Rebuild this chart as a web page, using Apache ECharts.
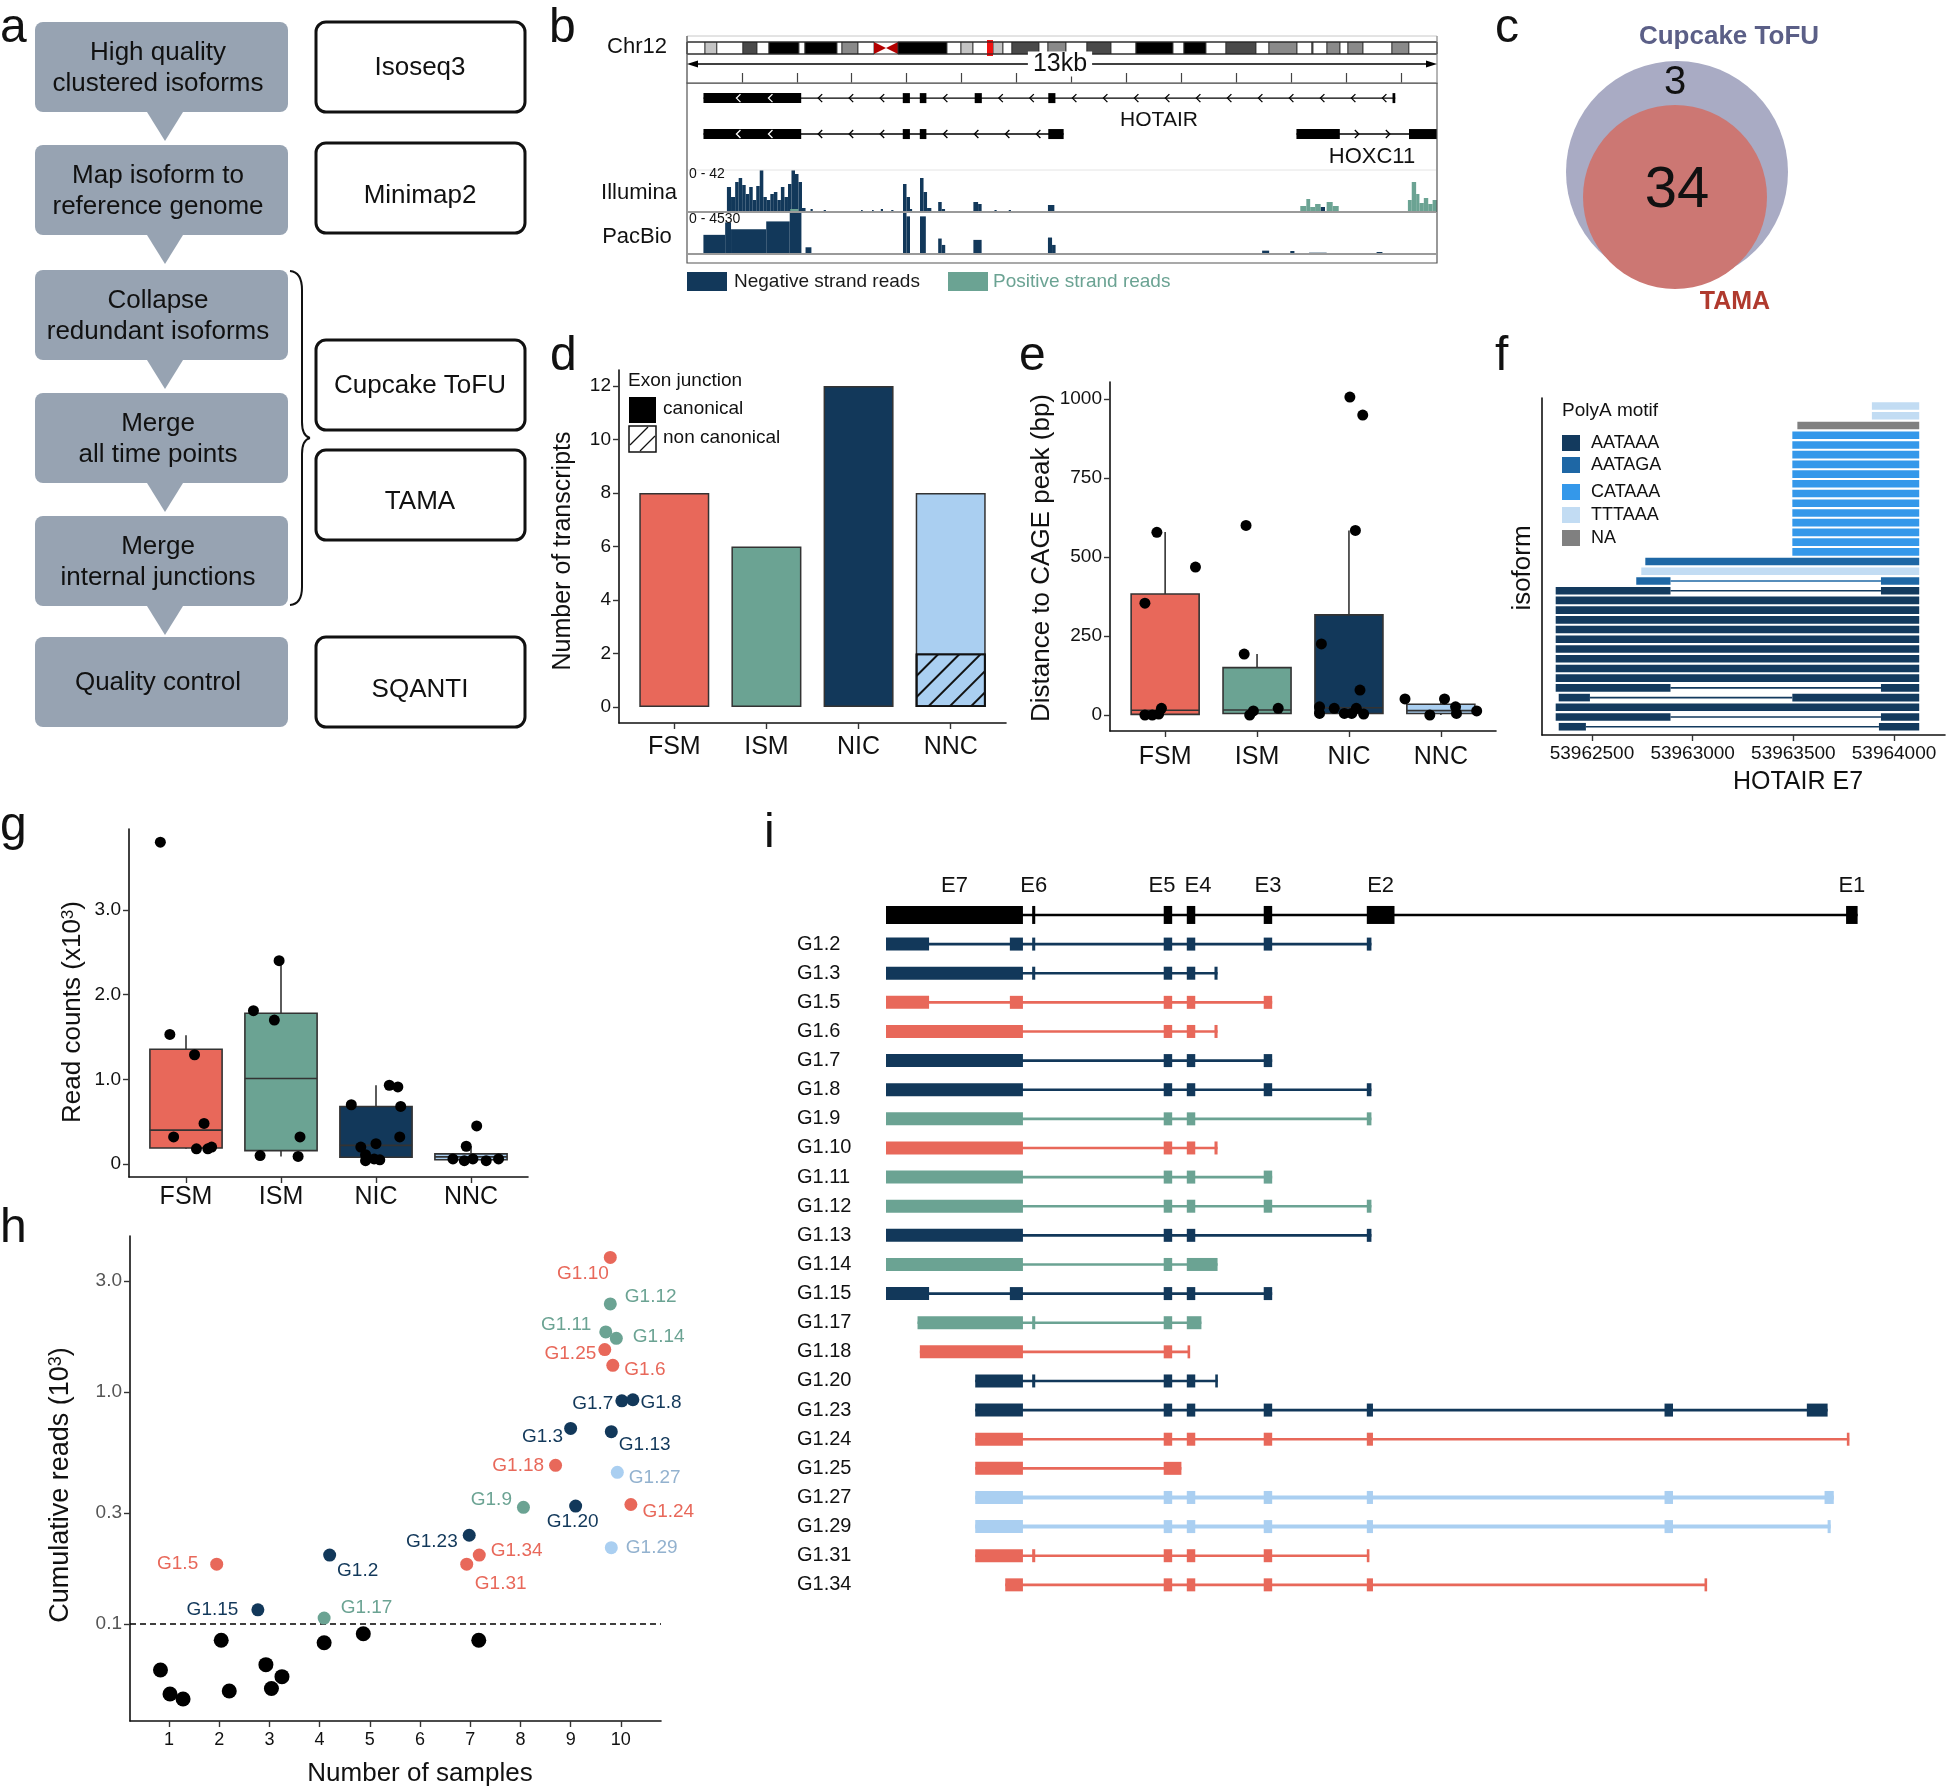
<!DOCTYPE html>
<html>
<head>
<meta charset="utf-8">
<title>HOTAIR isoforms</title>
<script src="https://cdn.jsdelivr.net/npm/echarts@6.0.0/dist/echarts.min.js"></script>
<style>
html, body { margin: 0; padding: 0; background: #fff; }
#main { width: 1948px; height: 1788px; }
</style>
</head>
<body>
<div id="main"></div>
<script>
var FONT = '"Liberation Sans", Arial, Helvetica, sans-serif';
var NAVY = '#12385a', RED = '#e8685a', TEAL = '#6ba393', LIGHT = '#aacff1';
var TXT = '#111';

// ---- a: pipeline
var pipelineSteps = ['High quality\nclustered isoforms', 'Map isoform to\nreference genome', 'Collapse\nredundant isoforms',
    'Merge\nall time points', 'Merge\ninternal junctions', 'Quality control'];
var pipelineTools = ['Isoseq3', 'Minimap2', 'Cupcake ToFU', 'TAMA', 'SQANTI'];

// ---- b: HOTAIR locus (chr12 in Mb, locus window in kb)
var chr12Bands = [
    [0, 3.2, 'gneg'], [3.2, 5.3, 'gpos25'], [5.3, 9.95, 'gneg'], [9.95, 12.44, 'gpos75'], [12.44, 14.57, 'gneg'],
    [14.57, 19.9, 'gpos100'], [19.9, 20.97, 'gneg'], [20.97, 26.66, 'gpos100'], [26.66, 27.55, 'gneg'],
    [27.55, 30.39, 'gpos50'], [30.39, 33.24, 'gneg'], [33.24, 35.37, 'acen'], [35.37, 37.5, 'acen'],
    [37.5, 46.21, 'gpos100'], [46.21, 48.7, 'gneg'], [48.7, 50.83, 'gpos25'], [50.83, 54.39, 'gneg'],
    [54.39, 56.16, 'gpos25'], [56.16, 57.76, 'gneg'], [57.76, 62.56, 'gpos75'], [62.56, 64.16, 'gneg'],
    [64.16, 67.36, 'gpos50'], [67.36, 71.09, 'gneg'], [71.09, 75.36, 'gpos75'], [75.36, 79.8, 'gneg'],
    [79.8, 86.38, 'gpos100'], [86.38, 88.33, 'gneg'], [88.33, 92.24, 'gpos100'], [92.24, 95.8, 'gneg'],
    [95.8, 101.13, 'gpos75'], [101.13, 103.44, 'gneg'], [103.44, 108.42, 'gpos50'], [108.42, 111.08, 'gneg'],
    [111.08, 111.26, 'gpos50'], [111.26, 113.75, 'gneg'], [113.75, 116.06, 'gpos50'], [116.06, 117.48, 'gneg'],
    [117.48, 120.15, 'gpos50'], [120.15, 125.3, 'gneg'], [125.3, 128.3, 'gpos50'], [128.3, 133.3, 'gneg']
];
var locusMb = [53.32, 54.39];
var rulerLabel = '13kb';
var hotair201Exons = [[0.30, 2.08], [3.93, 4.06], [4.24, 4.36], [5.24, 5.37], [6.58, 6.71], [12.85, 12.90]];
var hotair202Exons = [[0.30, 2.08], [3.93, 4.06], [4.24, 4.36], [6.58, 6.86]];
var hoxc11Exons = [[11.10, 11.89], [13.15, 13.66]];
var illuminaNeg = [
    [0.727, 0.802, 25], [0.802, 0.877, 15], [0.877, 0.941, 30], [0.941, 1.005, 34], [1.005, 1.069, 27],
    [1.069, 1.133, 18], [1.133, 1.197, 25], [1.197, 1.261, 12], [1.261, 1.325, 26], [1.325, 1.390, 42],
    [1.390, 1.454, 15], [1.454, 1.518, 12], [1.518, 1.582, 18], [1.582, 1.646, 20], [1.646, 1.710, 12],
    [1.710, 1.774, 25], [1.774, 1.839, 15], [1.839, 1.903, 28], [1.903, 1.967, 42], [1.967, 2.031, 38],
    [2.031, 2.095, 30], [2.095, 2.159, 4], [2.25, 2.29, 3], [2.49, 2.53, 2], [3.17, 3.20, 2], [3.37, 3.40, 2],
    [3.53, 3.57, 3], [3.72, 3.76, 2], [3.934, 3.998, 28], [3.998, 4.062, 15], [4.062, 4.10, 3],
    [4.244, 4.308, 34], [4.308, 4.372, 20], [4.372, 4.45, 4], [4.575, 4.639, 10], [4.639, 4.70, 3],
    [5.216, 5.302, 10], [5.302, 5.366, 8], [5.60, 5.64, 2], [5.86, 5.90, 2], [6.574, 6.691, 7], [11.54, 11.62, 5]
];
var illuminaPos = [
    [1.88, 2.03, 3], [8.30, 8.34, 1], [8.85, 8.90, 1], [9.60, 9.64, 1],
    [11.17, 11.28, 6], [11.28, 11.35, 13], [11.35, 11.44, 5], [11.44, 11.54, 8], [11.65, 11.76, 10], [11.76, 11.87, 6],
    [13.13, 13.20, 12], [13.20, 13.28, 30], [13.28, 13.34, 18], [13.34, 13.42, 9], [13.42, 13.50, 14],
    [13.50, 13.58, 8], [13.58, 13.66, 12]
];
var pacbioNeg = [
    [0.299, 0.695, 2066], [0.695, 0.802, 3407], [0.802, 1.443, 2682], [1.443, 1.871, 3515], [1.871, 2.084, 4530],
    [2.159, 2.266, 725], [3.934, 3.998, 4530], [3.998, 4.062, 4059], [4.244, 4.350, 4059], [4.575, 4.639, 1667],
    [4.639, 4.703, 978], [5.216, 5.366, 1522], [6.574, 6.649, 1776], [6.649, 6.713, 978],
    [10.475, 10.603, 362], [10.988, 11.063, 326], [11.33, 11.65, 145], [12.56, 12.666, 217]
];
var illuminaMax = 42, pacbioMax = 4530, windowKb = 13.66;

// ---- c: overlap
var vennNames = ['Cupcake ToFU', 'TAMA'];
var vennCounts = [3, 34];

// ---- d: structural categories
var categories = ['FSM', 'ISM', 'NIC', 'NNC'];
var canonical = [8, 6, 12, 6];
var nonCanonical = [0, 0, 0, 2];

// ---- e: distance to CAGE peak (bp)  [min, Q1, median, Q3, max]
var cageStats = [[0, 2, 15, 383, 579], [3, 5, 16, 150, 193], [3, 5, 23, 317, 584], [0, 5, 14, 34, 51]];
var cagePoints = [
    [0.91, 578], [1.33, 468], [0.78, 354], [0.78, 0], [0.86, 0], [0.93, 3], [0.96, 21],
    [1.88, 600], [1.86, 193], [1.92, 0], [1.96, 13], [2.23, 21],
    [3.01, 1006], [3.15, 949], [3.07, 584], [2.70, 225], [3.12, 79], [2.68, 26], [2.68, 5], [2.84, 21],
    [2.95, 5], [3.03, 5], [3.08, 21], [3.16, 3],
    [3.61, 51], [3.88, 0], [4.04, 51], [4.16, 26], [4.17, 5], [4.39, 13]
];

// ---- f: HOTAIR E7 isoforms, top to bottom  [motif, start, end, (start2, end2)]
var polyaMotifs = ['AATAAA', 'AATAGA', 'CATAAA', 'TTTAAA', 'NA'];
var e7Isoforms = [
    ['TTTAAA', 53963890, 53964125], ['TTTAAA', 53963890, 53964125], ['NA', 53963520, 53964125],
    ['CATAAA', 53963495, 53964125], ['CATAAA', 53963495, 53964125], ['CATAAA', 53963495, 53964125],
    ['CATAAA', 53963495, 53964125], ['CATAAA', 53963495, 53964125], ['CATAAA', 53963495, 53964125],
    ['CATAAA', 53963495, 53964125], ['CATAAA', 53963495, 53964125], ['CATAAA', 53963495, 53964125],
    ['CATAAA', 53963495, 53964125], ['CATAAA', 53963495, 53964125], ['CATAAA', 53963495, 53964125],
    ['CATAAA', 53963495, 53964125],
    ['AATAGA', 53962765, 53964125], ['TTTAAA', 53962745, 53964125],
    ['AATAGA', 53962720, 53962890, 53963935, 53964125], ['AATAAA', 53962320, 53962890, 53963935, 53964125],
    ['AATAAA', 53962320, 53964125], ['AATAAA', 53962320, 53964125], ['AATAAA', 53962320, 53964125],
    ['AATAAA', 53962320, 53964125], ['AATAAA', 53962320, 53964125], ['AATAAA', 53962320, 53964125],
    ['AATAAA', 53962320, 53964125], ['AATAAA', 53962320, 53964125], ['AATAAA', 53962320, 53964125],
    ['AATAAA', 53962320, 53962890, 53963935, 53964125], ['AATAAA', 53962335, 53962490, 53963495, 53964125],
    ['AATAAA', 53962320, 53964125], ['AATAAA', 53962320, 53962890, 53963935, 53964125],
    ['AATAAA', 53962335, 53962470, 53963925, 53964125]
];

// ---- g: read counts (x10^3)  [min, Q1, median, Q3, max]
var readStats = [[0.18, 0.19, 0.40, 1.355, 1.52], [0.09, 0.158, 1.01, 1.78, 2.40], [0.04, 0.08, 0.22, 0.68, 0.93], [0.04, 0.05, 0.085, 0.12, 0.21]];
var readPoints = [
    [0.73, 3.80], [0.83, 1.53], [1.09, 1.29], [1.19, 0.48], [0.87, 0.32], [1.11, 0.18], [1.23, 0.18], [1.27, 0.20],
    [1.98, 2.40], [1.71, 1.81], [1.93, 1.70], [2.20, 0.32], [1.78, 0.10], [2.18, 0.09],
    [3.14, 0.93], [3.23, 0.91], [2.74, 0.70], [3.26, 0.68], [3.25, 0.32], [3.00, 0.24], [2.84, 0.20],
    [2.89, 0.11], [2.89, 0.04], [2.98, 0.06], [3.04, 0.05],
    [4.06, 0.45], [3.95, 0.21], [3.81, 0.06], [3.93, 0.04], [4.02, 0.06], [4.16, 0.04], [4.29, 0.06]
];

// ---- h / i: isoforms
var isoNames = ['G1.2', 'G1.3', 'G1.5', 'G1.6', 'G1.7', 'G1.8', 'G1.9', 'G1.10', 'G1.11', 'G1.12', 'G1.13', 'G1.14',
    'G1.15', 'G1.17', 'G1.18', 'G1.20', 'G1.23', 'G1.24', 'G1.25', 'G1.27', 'G1.29', 'G1.31', 'G1.34'];
var isoClass = ['NIC', 'NIC', 'FSM', 'FSM', 'NIC', 'NIC', 'ISM', 'FSM', 'ISM', 'ISM', 'NIC', 'ISM',
    'NIC', 'ISM', 'FSM', 'NIC', 'NIC', 'FSM', 'FSM', 'NNC', 'NNC', 'FSM', 'FSM'];
var isoSamples = [4.20, 9.00, 1.95, 9.84, 10.02, 10.24, 8.06, 9.79, 9.70, 9.79, 9.81, 9.91,
    2.77, 4.09, 8.70, 9.10, 6.98, 10.20, 9.68, 9.93, 9.81, 6.93, 7.18];
var isoReads = [0.198, 0.695, 0.181, 1.30, 0.914, 0.924, 0.318, 3.79, 1.81, 2.39, 0.673, 1.70,
    0.115, 0.106, 0.482, 0.322, 0.241, 0.327, 1.52, 0.450, 0.213, 0.181, 0.198];
var lowSamples = [0.83, 1.02, 1.28, 2.04, 2.20, 2.93, 3.04, 3.25, 4.09, 4.87, 7.17];
var lowReads = [0.0633, 0.0499, 0.0475, 0.0851, 0.0514, 0.0668, 0.0527, 0.0593, 0.083, 0.0908, 0.0851];
var readThreshold = 0.1;

var refExons = [[0, 1.78], [1.90, 1.94], [3.61, 3.72], [3.91, 4.02], [4.91, 5.02], [6.25, 6.61], [12.48, 12.63]];
var refExonNames = ['E7', 'E6', 'E5', 'E4', 'E3', 'E2', 'E1'];
var isoExons = [
    [[0, 0.56], [1.61, 1.78], [1.90, 1.94], [3.61, 3.72], [3.91, 4.02], [4.91, 5.02], [6.25, 6.31]],
    [[0, 1.78], [1.90, 1.94], [3.61, 3.72], [3.91, 4.02], [4.27, 4.31]],
    [[0, 0.56], [1.61, 1.78], [3.61, 3.72], [3.91, 4.02], [4.91, 5.02]],
    [[0, 1.78], [3.61, 3.72], [3.91, 4.02], [4.27, 4.31]],
    [[0, 1.78], [3.61, 3.72], [3.91, 4.02], [4.91, 5.02]],
    [[0, 1.78], [3.61, 3.72], [3.91, 4.02], [4.91, 5.02], [6.25, 6.31]],
    [[0, 1.78], [3.61, 3.72], [3.91, 4.02], [6.25, 6.31]],
    [[0, 1.78], [3.61, 3.72], [3.91, 4.02], [4.27, 4.31]],
    [[0, 1.78], [3.61, 3.72], [3.91, 4.02], [4.91, 5.02]],
    [[0, 1.78], [3.61, 3.72], [3.91, 4.02], [4.91, 5.02], [6.25, 6.31]],
    [[0, 1.78], [3.61, 3.72], [3.91, 4.02], [6.25, 6.31]],
    [[0, 1.78], [3.61, 3.72], [3.91, 4.31]],
    [[0, 0.56], [1.61, 1.78], [3.61, 3.72], [3.91, 4.02], [4.91, 5.02]],
    [[0.41, 1.78], [1.90, 1.94], [3.61, 3.72], [3.91, 4.10]],
    [[0.44, 1.78], [3.61, 3.72], [3.92, 3.95]],
    [[1.16, 1.78], [1.90, 1.94], [3.61, 3.72], [3.91, 4.02], [4.28, 4.31]],
    [[1.16, 1.78], [3.61, 3.72], [3.91, 4.02], [4.91, 5.02], [6.25, 6.33], [10.12, 10.23], [11.97, 12.24]],
    [[1.16, 1.78], [3.61, 3.72], [3.91, 4.02], [4.91, 5.02], [6.25, 6.33], [12.49, 12.52]],
    [[1.16, 1.78], [3.61, 3.84]],
    [[1.16, 1.78], [3.61, 3.72], [3.91, 4.02], [4.91, 5.02], [6.25, 6.33], [10.12, 10.23], [12.20, 12.32]],
    [[1.16, 1.78], [3.61, 3.72], [3.91, 4.02], [4.91, 5.02], [6.25, 6.33], [10.12, 10.23], [12.24, 12.28]],
    [[1.16, 1.78], [1.90, 1.94], [3.61, 3.72], [3.91, 4.02], [4.91, 5.02], [6.25, 6.28]],
    [[1.55, 1.78], [3.61, 3.72], [3.91, 4.02], [4.91, 5.02], [6.25, 6.33], [10.64, 10.67]]
];

// ---- styles
var classColor = {FSM: RED, ISM: TEAL, NIC: NAVY, NNC: LIGHT};
var labelColor = {FSM: RED, ISM: TEAL, NIC: NAVY, NNC: '#93b2cf'};
var motifColor = {AATAAA: '#133a5e', AATAGA: '#1e67a5', CATAAA: '#3498ea', TTTAAA: '#c2dcf3', NA: '#808080'};
var stainColor = {gneg: '#ffffff', gpos25: '#c4c4c4', gpos50: '#8a8a8a', gpos75: '#4a4a4a', gpos100: '#000000', acen: '#b30000'};
// label placement for panel h: [position, dx, dy]
var hLabelPos = {
    'G1.10': ['left', 10, 16], 'G1.12': ['right', 3, -7], 'G1.11': ['left', -3, -7], 'G1.14': ['right', 5, -2],
    'G1.25': ['left', 3, 4], 'G1.6': ['right', 0, 4], 'G1.7': ['left', 3, 3], 'G1.8': ['right', -4, 3],
    'G1.3': ['left', 4, 8], 'G1.13': ['right', -4, 13], 'G1.18': ['left', 0, 0], 'G1.27': ['right', 0, 5],
    'G1.9': ['left', 0, -8], 'G1.20': ['bottom', -3, -5], 'G1.24': ['right', 0, 7], 'G1.23': ['left', 0, 7],
    'G1.34': ['right', 0, -4], 'G1.31': ['bottom', 34, -1], 'G1.29': ['right', 3, 0], 'G1.5': ['left', -7, 0],
    'G1.2': ['bottom', 28, -5], 'G1.15': ['left', -8, 0], 'G1.17': ['right', 5, -10]
};

// ---- grids
var grids = [
    {left: 687, top: 42, width: 750, height: 12},      // b ideogram
    {left: 687, top: 83, width: 750, height: 87},      // b genes
    {left: 687, top: 170, width: 750, height: 42},     // b illumina
    {left: 687, top: 212, width: 750, height: 42},     // b pacbio
    {left: 619, top: 370, width: 387, height: 353},    // d
    {left: 1110, top: 382, width: 386, height: 349},   // e
    {left: 1542, top: 398, width: 403, height: 337},   // f
    {left: 129, top: 829, width: 399, height: 348},    // g
    {left: 130, top: 1236, width: 531, height: 485},   // h
    {left: 886, top: 900.4, width: 977, height: 699}   // i
].map(function (g) { g.containLabel = false; g.outerBoundsMode = 'none'; g.show = false; return g; });

function hidden(gi, min, max, inverse) {
    return {gridIndex: gi, type: 'value', min: min, max: max, inverse: !!inverse, show: false,
        axisLine: {show: false, onZero: false}, splitLine: {show: false}};
}
function ggAxis(gi, pos, min, max, ticks, fmt, size, margin, color) {
    return {gridIndex: gi, type: 'value', position: pos, min: min, max: max,
        axisLine: {show: true, onZero: false, lineStyle: {color: '#111', width: 1.6}},
        axisTick: {show: true, length: 6, customValues: ticks, lineStyle: {color: '#333', width: 1.4}},
        axisLabel: {show: true, customValues: ticks, formatter: fmt, fontSize: size, margin: margin,
            color: color || TXT, fontFamily: FONT},
        splitLine: {show: false}};
}
function catFmt(v) { return categories[Math.round(v) - 1]; }
function numFmt(v) { return String(v); }

var xAxes = [
    hidden(0, 0, 133.3),
    {gridIndex: 1, type: 'value', position: 'top', min: 0, max: windowKb,
        axisLine: {show: true, onZero: false, lineStyle: {color: '#555', width: 1}},
        axisTick: {show: true, length: 10, customValues: [1, 2, 3, 4, 5, 6, 7, 8, 9, 10, 11, 12, 13], lineStyle: {color: '#444', width: 1.2}},
        axisLabel: {show: false}, splitLine: {show: false}},
    hidden(2, 0, windowKb),
    hidden(3, 0, windowKb),
    ggAxis(4, 'bottom', 0.4, 4.6, [1, 2, 3, 4], catFmt, 25, 12),
    ggAxis(5, 'bottom', 0.4, 4.6, [1, 2, 3, 4], catFmt, 25, 14),
    ggAxis(6, 'bottom', 53962252, 53964253, [53962500, 53963000, 53963500, 53964000], numFmt, 19, 9),
    ggAxis(7, 'bottom', 0.4, 4.6, [1, 2, 3, 4], catFmt, 25, 8),
    ggAxis(8, 'bottom', 0.223, 10.8, [1, 2, 3, 4, 5, 6, 7, 8, 9, 10], numFmt, 18, 10),
    hidden(9, 0, 12.7)
];
var fAxisY = ggAxis(6, 'left', 0.15, 34.83, [], numFmt, 19, 8);
fAxisY.axisTick.show = false; fAxisY.axisLabel.show = false;
var yAxes = [
    hidden(0, 0, 1),
    hidden(1, -0.42, 2.0, true),
    hidden(2, 0, illuminaMax),
    hidden(3, 0, pacbioMax),
    ggAxis(4, 'left', -0.6, 12.6, [0, 2, 4, 6, 8, 10, 12], numFmt, 19, 8),
    ggAxis(5, 'left', -50.6, 1053.8, [0, 250, 500, 750, 1000], numFmt, 19, 8),
    fAxisY,
    ggAxis(7, 'left', -0.153, 3.955, [0, 1, 2, 3], function (v) { return v === 0 ? '0' : v.toFixed(1); }, 19, 8),
    ggAxis(8, 'left', -1.418, 0.671, [0.1, 0.3, 1, 3].map(Math.log10),
        function (v) { return Math.pow(10, v).toFixed(1); }, 19, 8, '#555'),
    hidden(9, -0.5, 23.5, true)
];

// ---- series helpers
function chevron(x, y, minus, color) {
    var d = minus ? 1 : -1;
    return {type: 'polyline', shape: {points: [[x + 3 * d, y - 4], [x - 1 * d, y], [x + 3 * d, y + 4]]},
        style: {stroke: color, lineWidth: 1.3, fill: null}};
}
var geneExons = [hotair201Exons, hotair202Exons, hoxc11Exons];
var geneRows = [0, 1, 1];
var geneMinus = [true, true, false];

function coverage(gi, rows, color) {
    return {type: 'custom', xAxisIndex: gi, yAxisIndex: gi, data: rows, encode: {x: [0, 1], y: 2},
        renderItem: function (params, api) {
            var a = api.coord([api.value(0), api.value(2)]);
            var b = api.coord([api.value(1), 0]);
            return {type: 'rect', shape: {x: a[0], y: a[1], width: Math.max(b[0] - a[0], 1.2), height: b[1] - a[1]},
                style: {fill: color}};
        }};
}
function boxSeries(gi, stats, frac) {
    return {type: 'custom', xAxisIndex: gi, yAxisIndex: gi, z: 2,
        data: stats.map(function (s, i) { return [i + 1].concat(s); }),
        encode: {x: 0, y: [1, 2, 3, 4, 5]},
        renderItem: function (params, api) {
            var x = api.value(0);
            var p = [1, 2, 3, 4, 5].map(function (k) { return api.coord([x, api.value(k)]); });
            var w = api.size([1, 0])[0] * frac, cx = p[0][0];
            var col = classColor[categories[params.dataIndex]];
            function ln() { return {stroke: '#333', lineWidth: 1.6}; }
            return {type: 'group', children: [
                {type: 'line', shape: {x1: cx, y1: p[4][1], x2: cx, y2: p[3][1]}, style: ln()},
                {type: 'line', shape: {x1: cx, y1: p[0][1], x2: cx, y2: p[1][1]}, style: ln()},
                {type: 'rect', shape: {x: cx - w / 2, y: p[3][1], width: w, height: p[1][1] - p[3][1]},
                    style: {fill: col, stroke: '#333', lineWidth: 1.6}},
                {type: 'line', shape: {x1: cx - w / 2, y1: p[2][1], x2: cx + w / 2, y2: p[2][1]}, style: ln()}
            ]};
        }};
}
function dots(gi, pts, size) {
    return {type: 'scatter', xAxisIndex: gi, yAxisIndex: gi, z: 4, symbolSize: size,
        itemStyle: {color: '#000', opacity: 1}, data: pts};
}

var series = [
    // b: ideogram
    {type: 'custom', xAxisIndex: 0, yAxisIndex: 0, data: chr12Bands.map(function (b) { return [b[0], b[1]]; }),
        encode: {x: [0, 1]},
        renderItem: function (params, api) {
            var band = chr12Bands[params.dataIndex];
            var a = api.coord([band[0], 1]), b = api.coord([band[1], 0]);
            if (band[2] === 'acen') {
                var left = params.dataIndex > 0 && chr12Bands[params.dataIndex - 1][2] !== 'acen';
                var pts = left ? [[a[0], a[1]], [b[0], (a[1] + b[1]) / 2], [a[0], b[1]]]
                    : [[b[0], a[1]], [a[0], (a[1] + b[1]) / 2], [b[0], b[1]]];
                return {type: 'polygon', shape: {points: pts}, style: {fill: stainColor.acen}};
            }
            return {type: 'rect', shape: {x: a[0], y: a[1], width: b[0] - a[0], height: b[1] - a[1]},
                style: {fill: stainColor[band[2]], stroke: '#333', lineWidth: 0.9}};
        }},
    {type: 'custom', xAxisIndex: 0, yAxisIndex: 0, data: [locusMb], encode: {x: [0, 1]}, z: 3,
        renderItem: function (params, api) {
            var a = api.coord([api.value(0), 1]), b = api.coord([api.value(1), 0]);
            return {type: 'rect', shape: {x: a[0], y: a[1] - 2, width: b[0] - a[0], height: b[1] - a[1] + 4},
                style: {fill: '#f01010'}};
        }},
    // b: gene models
    {type: 'custom', xAxisIndex: 1, yAxisIndex: 1, data: geneExons.map(function (e, i) { return [e[0][0], geneRows[i]]; }),
        encode: {x: 0, y: 1},
        renderItem: function (params, api) {
            var i = params.dataIndex, ex = geneExons[i], row = geneRows[i], minus = geneMinus[i];
            var y = api.coord([0, row])[1];
            var xa = api.coord([ex[0][0], row])[0], xb = api.coord([ex[ex.length - 1][1], row])[0];
            var ch = [{type: 'line', shape: {x1: xa, y1: y, x2: xb, y2: y}, style: {stroke: '#000', lineWidth: 1.4}}];
            var k, x;
            for (k = 0; k < ex.length - 1; k++) {
                var a = api.coord([ex[k][1], row])[0], b = api.coord([ex[k + 1][0], row])[0];
                for (x = a + 18; x < b - 6; x += 31) ch.push(chevron(x, y, minus, '#000'));
            }
            ex.forEach(function (e) {
                var a = api.coord([e[0], row])[0], b = api.coord([e[1], row])[0];
                ch.push({type: 'rect', shape: {x: a, y: y - 5, width: Math.max(b - a, 2), height: 10}, style: {fill: '#000'}});
                for (var xx = a + 34; xx < b - 10; xx += 32) ch.push(chevron(xx, y, minus, '#fff'));
            });
            return {type: 'group', children: ch};
        }},
    coverage(2, illuminaNeg, NAVY),
    coverage(2, illuminaPos, TEAL),
    coverage(3, pacbioNeg, NAVY),
    // d: bars
    {type: 'bar', xAxisIndex: 4, yAxisIndex: 4, barWidth: 70, barGap: '-100%', z: 2,
        itemStyle: {borderColor: '#333', borderWidth: 1.5},
        data: categories.map(function (c, i) {
            return {value: [i + 1, canonical[i] + nonCanonical[i]], itemStyle: {color: classColor[c]}};
        })},
    {type: 'bar', xAxisIndex: 4, yAxisIndex: 4, barWidth: 70, barGap: '-100%', z: 3,
        itemStyle: {color: LIGHT, borderColor: '#111', borderWidth: 1.8,
            decal: {symbol: 'rect', symbolSize: 1, color: '#111', dashArrayX: [1, 0], dashArrayY: [1.4, 12.6], rotation: -Math.PI / 4}},
        data: categories.map(function (c, i) { return [i + 1, nonCanonical[i]]; }).filter(function (d) { return d[1] > 0; })},
    // e
    boxSeries(5, cageStats, 0.74),
    dots(5, cagePoints, 11),
    // f
    {type: 'custom', xAxisIndex: 6, yAxisIndex: 6,
        data: e7Isoforms.map(function (r, i) { return [r[1], e7Isoforms.length - i]; }),
        encode: {x: 0, y: 1},
        renderItem: function (params, api) {
            var r = e7Isoforms[params.dataIndex], row = api.value(1);
            var col = motifColor[r[0]], ch = [];
            var y = api.coord([r[1], row])[1];
            if (r.length > 3) {
                var e1 = api.coord([r[2], row])[0], s2 = api.coord([r[3], row])[0];
                ch.push({type: 'line', shape: {x1: e1, y1: y, x2: s2, y2: y}, style: {stroke: col, lineWidth: 1.6}});
            }
            for (var k = 1; k < r.length; k += 2) {
                var a = api.coord([r[k], row])[0], b = api.coord([r[k + 1], row])[0];
                ch.push({type: 'rect', shape: {x: a, y: y - 3.8, width: b - a, height: 7.6}, style: {fill: col}});
            }
            return {type: 'group', children: ch};
        }},
    // g
    boxSeries(7, readStats, 0.76),
    dots(7, readPoints, 11),
    // h
    {type: 'scatter', xAxisIndex: 8, yAxisIndex: 8, z: 4, symbolSize: 15, itemStyle: {color: '#000', opacity: 1},
        data: lowSamples.map(function (x, i) { return [x, Math.log10(lowReads[i])]; }),
        markLine: {silent: true, symbol: ['none', 'none'], label: {show: false}, animation: false,
            lineStyle: {color: '#000', type: [6, 4], width: 1.6},
            data: [{yAxis: Math.log10(readThreshold)}]}},
    {type: 'scatter', xAxisIndex: 8, yAxisIndex: 8, z: 5, symbolSize: 13,
        data: isoNames.map(function (n, i) {
            var lp = hLabelPos[n];
            return {name: n, value: [isoSamples[i], Math.log10(isoReads[i])],
                itemStyle: {color: classColor[isoClass[i]], opacity: 1},
                label: {show: true, formatter: n, position: lp[0], offset: [lp[1], lp[2]], distance: 5,
                    color: labelColor[isoClass[i]], fontSize: 19, fontFamily: FONT}};
        })},
    // i
    {type: 'custom', xAxisIndex: 9, yAxisIndex: 9,
        data: [[0, 0]].concat(isoNames.map(function (n, i) { return [isoExons[i][0][0], i + 1]; })),
        encode: {x: 0, y: 1},
        renderItem: function (params, api) {
            var r = api.value(1), exons, color, h, lw, ch = [];
            if (r === 0) { exons = refExons; color = '#000'; h = 18; lw = 2.6; }
            else {
                exons = isoExons[r - 1]; color = classColor[isoClass[r - 1]]; h = 13;
                lw = isoClass[r - 1] === 'NNC' ? 4 : 2.6;
            }
            var y = api.coord([0, r])[1];
            var xs = api.coord([exons[0][0], r])[0], xe = api.coord([exons[exons.length - 1][1], r])[0];
            ch.push({type: 'line', shape: {x1: xs, y1: y, x2: xe, y2: y}, style: {stroke: color, lineWidth: lw}});
            exons.forEach(function (e, j) {
                var a = api.coord([e[0], r])[0], b = api.coord([e[1], r])[0];
                ch.push({type: 'rect', shape: {x: a, y: y - h / 2, width: Math.max(b - a, 2.6), height: h}, style: {fill: color}});
                if (r === 0) {
                    var nudge = refExonNames[j] === 'E5' ? -6 : (refExonNames[j] === 'E4' ? 7 : 0);
                    ch.push({type: 'text', x: (a + b) / 2 + nudge, y: y - 29,
                        style: {text: refExonNames[j], fontSize: 22, fontFamily: FONT, fill: TXT,
                            align: 'center', verticalAlign: 'middle'}});
                }
            });
            if (r > 0) {
                ch.push({type: 'text', x: params.coordSys.x - 89, y: y,
                    style: {text: isoNames[r - 1], fontSize: 20, fontFamily: FONT, fill: TXT,
                        align: 'left', verticalAlign: 'middle'}});
            }
            return {type: 'group', children: ch};
        }}
];

// ---- graphic (layout, annotations)
var G = [];
function T(x, y, text, size, o) {
    o = o || {};
    var st = {text: text, fontSize: size, fontFamily: FONT, fill: o.color || TXT, fontWeight: o.bold ? 'bold' : 'normal',
        align: o.align || 'center', verticalAlign: 'middle'};
    if (o.lh) st.lineHeight = o.lh;
    if (o.bg) { st.backgroundColor = o.bg; st.padding = [0, 5]; }
    if (o.rich) st.rich = o.rich;
    return {type: 'text', x: x, y: y, rotation: o.rot || 0, z: 20, style: st};
}
function R(x, y, w, h, fill, stroke, lw, r) {
    return {type: 'rect', z: fill ? 5 : 15, shape: {x: x, y: y, width: w, height: h, r: r || 0},
        style: {fill: fill || 'none', stroke: stroke || 'none', lineWidth: lw || 0}};
}
function L(x1, y1, x2, y2, color, lw, z) {
    return {type: 'line', z: z || 15, shape: {x1: x1, y1: y1, x2: x2, y2: y2}, style: {stroke: color, lineWidth: lw}};
}
function Q(x1, y1, cx, cy, x2, y2) {
    return {type: 'bezierCurve', z: 15, shape: {x1: x1, y1: y1, cpx1: cx, cpy1: cy, x2: x2, y2: y2},
        style: {fill: 'none', stroke: '#111', lineWidth: 2}};
}

// panel letters
[['a', 0, 29], ['b', 549, 29], ['c', 1495, 29], ['d', 550, 357], ['e', 1019, 357], ['f', 1495, 357],
    ['g', 0, 827], ['h', 0, 1229], ['i', 764, 834]].forEach(function (p) {
    G.push(T(p[1], p[2], p[0], 48, {align: 'left'}));
});

// a: pipeline
var GREY = '#97a3b2';
var stepTops = [22, 145, 270, 393, 516, 637];
pipelineSteps.forEach(function (s, i) {
    G.push(R(35, stepTops[i], 253, 90, GREY, null, 0, 8));
    G.push(T(158, stepTops[i] + 46, s, 26, {lh: 31}));
    if (i < pipelineSteps.length - 1) {
        G.push({type: 'polygon', z: 5, shape: {points: [[147, stepTops[i] + 90], [183, stepTops[i] + 90], [165, stepTops[i] + 119]]},
            style: {fill: GREY}});
    }
});
var toolTops = [22, 143, 340, 450, 637];
var toolTextY = [68, 196, 386, 502, 690];
pipelineTools.forEach(function (s, i) {
    G.push(R(316, toolTops[i], 209, 90, null, '#111', 3, 10));
    G.push(T(420, toolTextY[i], s, 26));
});
G.push(Q(290, 271, 302, 272, 302, 290));
G.push(L(302, 290, 302, 422, '#111', 2));
G.push(Q(302, 422, 302, 436, 310, 438));
G.push(Q(310, 438, 302, 440, 302, 454));
G.push(L(302, 454, 302, 587, '#111', 2));
G.push(Q(302, 587, 302, 604, 290, 605));

// b: browser frame and labels
G.push(R(687, 36, 750, 47, null, '#c8c8c8', 1));
G.push(R(687, 42, 750, 12, null, '#222', 1));
G.push(R(687, 83, 750, 180, null, '#555', 1.2));
G.push(L(687, 36, 687, 83, '#555', 1.2));
G.push(L(1437, 36, 1437, 83, '#888', 1));
G.push(L(688, 170, 1436, 170, '#e4e4e4', 1));
G.push(L(688, 212, 1436, 212, '#9a9a9a', 2));
G.push(L(688, 254, 1436, 254, '#9a9a9a', 2));
G.push(L(695, 64, 1429, 64, '#000', 1.5));
G.push({type: 'polygon', z: 15, shape: {points: [[687, 64], [698, 60.5], [698, 67.5]]}, style: {fill: '#000'}});
G.push({type: 'polygon', z: 15, shape: {points: [[1437, 64], [1426, 60.5], [1426, 67.5]]}, style: {fill: '#000'}});
G.push(T(1060, 64, rulerLabel, 25, {bg: '#fff'}));
G.push(T(667, 47, 'Chr12', 22, {align: 'right'}));
G.push(T(1159, 120, 'HOTAIR', 21));
G.push(T(1372, 157, 'HOXC11', 22));
G.push(T(639, 193, 'Illumina', 22));
G.push(T(637, 237, 'PacBio', 22));
G.push(T(689, 174, '0 - ' + illuminaMax, 14, {align: 'left'}));
G.push(T(689, 219, '0 - ' + pacbioMax, 14, {align: 'left'}));
G.push(R(687, 272, 40, 19, NAVY));
G.push(T(734, 282, 'Negative strand reads', 19, {align: 'left', color: '#1a1a1a'}));
G.push(R(948, 272, 40, 19, TEAL));
G.push(T(993, 282, 'Positive strand reads', 19, {align: 'left', color: TEAL}));

// c: overlap
G.push({type: 'circle', z: 5, shape: {cx: 1677, cy: 172, r: 111}, style: {fill: '#a9abc4'}});
G.push({type: 'circle', z: 6, shape: {cx: 1675, cy: 197, r: 92}, style: {fill: '#cc7773'}});
G.push(T(1729, 37, vennNames[0], 26, {bold: true, color: '#5b5f87'}));
G.push(T(1735, 302, vennNames[1], 25, {bold: true, color: '#b03a2e'}));
G.push(T(1675, 83, String(vennCounts[0]), 40));
G.push(T(1677, 191, String(vennCounts[1]), 58));

// d: legend + axis title
G.push(T(628, 381, 'Exon junction', 19, {align: 'left'}));
G.push(R(629, 397, 27, 26, '#000'));
G.push(T(663, 409, 'canonical', 19, {align: 'left'}));
G.push(R(629, 426, 27, 26, null, '#111', 1.5));
G.push(L(630, 445, 648, 427, '#111', 1.2));
G.push(L(640, 451, 655, 436, '#111', 1.2));
G.push(T(663, 438, 'non canonical', 19, {align: 'left'}));
G.push(T(563, 551, 'Number of transcripts', 25, {rot: Math.PI / 2}));

// e
G.push(T(1042, 558, 'Distance to CAGE peak (bp)', 26, {rot: Math.PI / 2}));

// f: legend + titles
G.push(T(1562, 411, 'PolyA motif', 19, {align: 'left'}));
[443, 465, 492, 515, 538].forEach(function (cy, i) {
    G.push(R(1562, cy - 8, 18, 16, motifColor[polyaMotifs[i]]));
    G.push(T(1591, cy, polyaMotifs[i], 18, {align: 'left'}));
});
G.push(T(1523, 568, 'isoform', 26, {rot: Math.PI / 2}));
G.push(T(1798, 782, 'HOTAIR E7', 25));

// g
var supRich = {n: {fontSize: 26, fontFamily: FONT, fill: TXT}, s: {fontSize: 17, fontFamily: FONT, fill: TXT, verticalAlign: 'top'}};
G.push(T(73, 1012, '{n|Read counts (x10}{s|3}{n|)}', 26, {rot: Math.PI / 2, rich: supRich}));

// h
G.push(T(61, 1485, '{n|Cumulative reads (10}{s|3}{n|)}', 27, {rot: Math.PI / 2,
    rich: {n: {fontSize: 27, fontFamily: FONT, fill: TXT}, s: {fontSize: 18, fontFamily: FONT, fill: TXT, verticalAlign: 'top'}}}));
G.push(T(420, 1774, 'Number of samples', 26));

var chart = echarts.init(document.getElementById('main'));
chart.setOption({
    animation: false,
    backgroundColor: '#fff',
    textStyle: {fontFamily: FONT},
    grid: grids,
    xAxis: xAxes,
    yAxis: yAxes,
    series: series,
    graphic: {elements: G}
});
</script>
</body>
</html>
